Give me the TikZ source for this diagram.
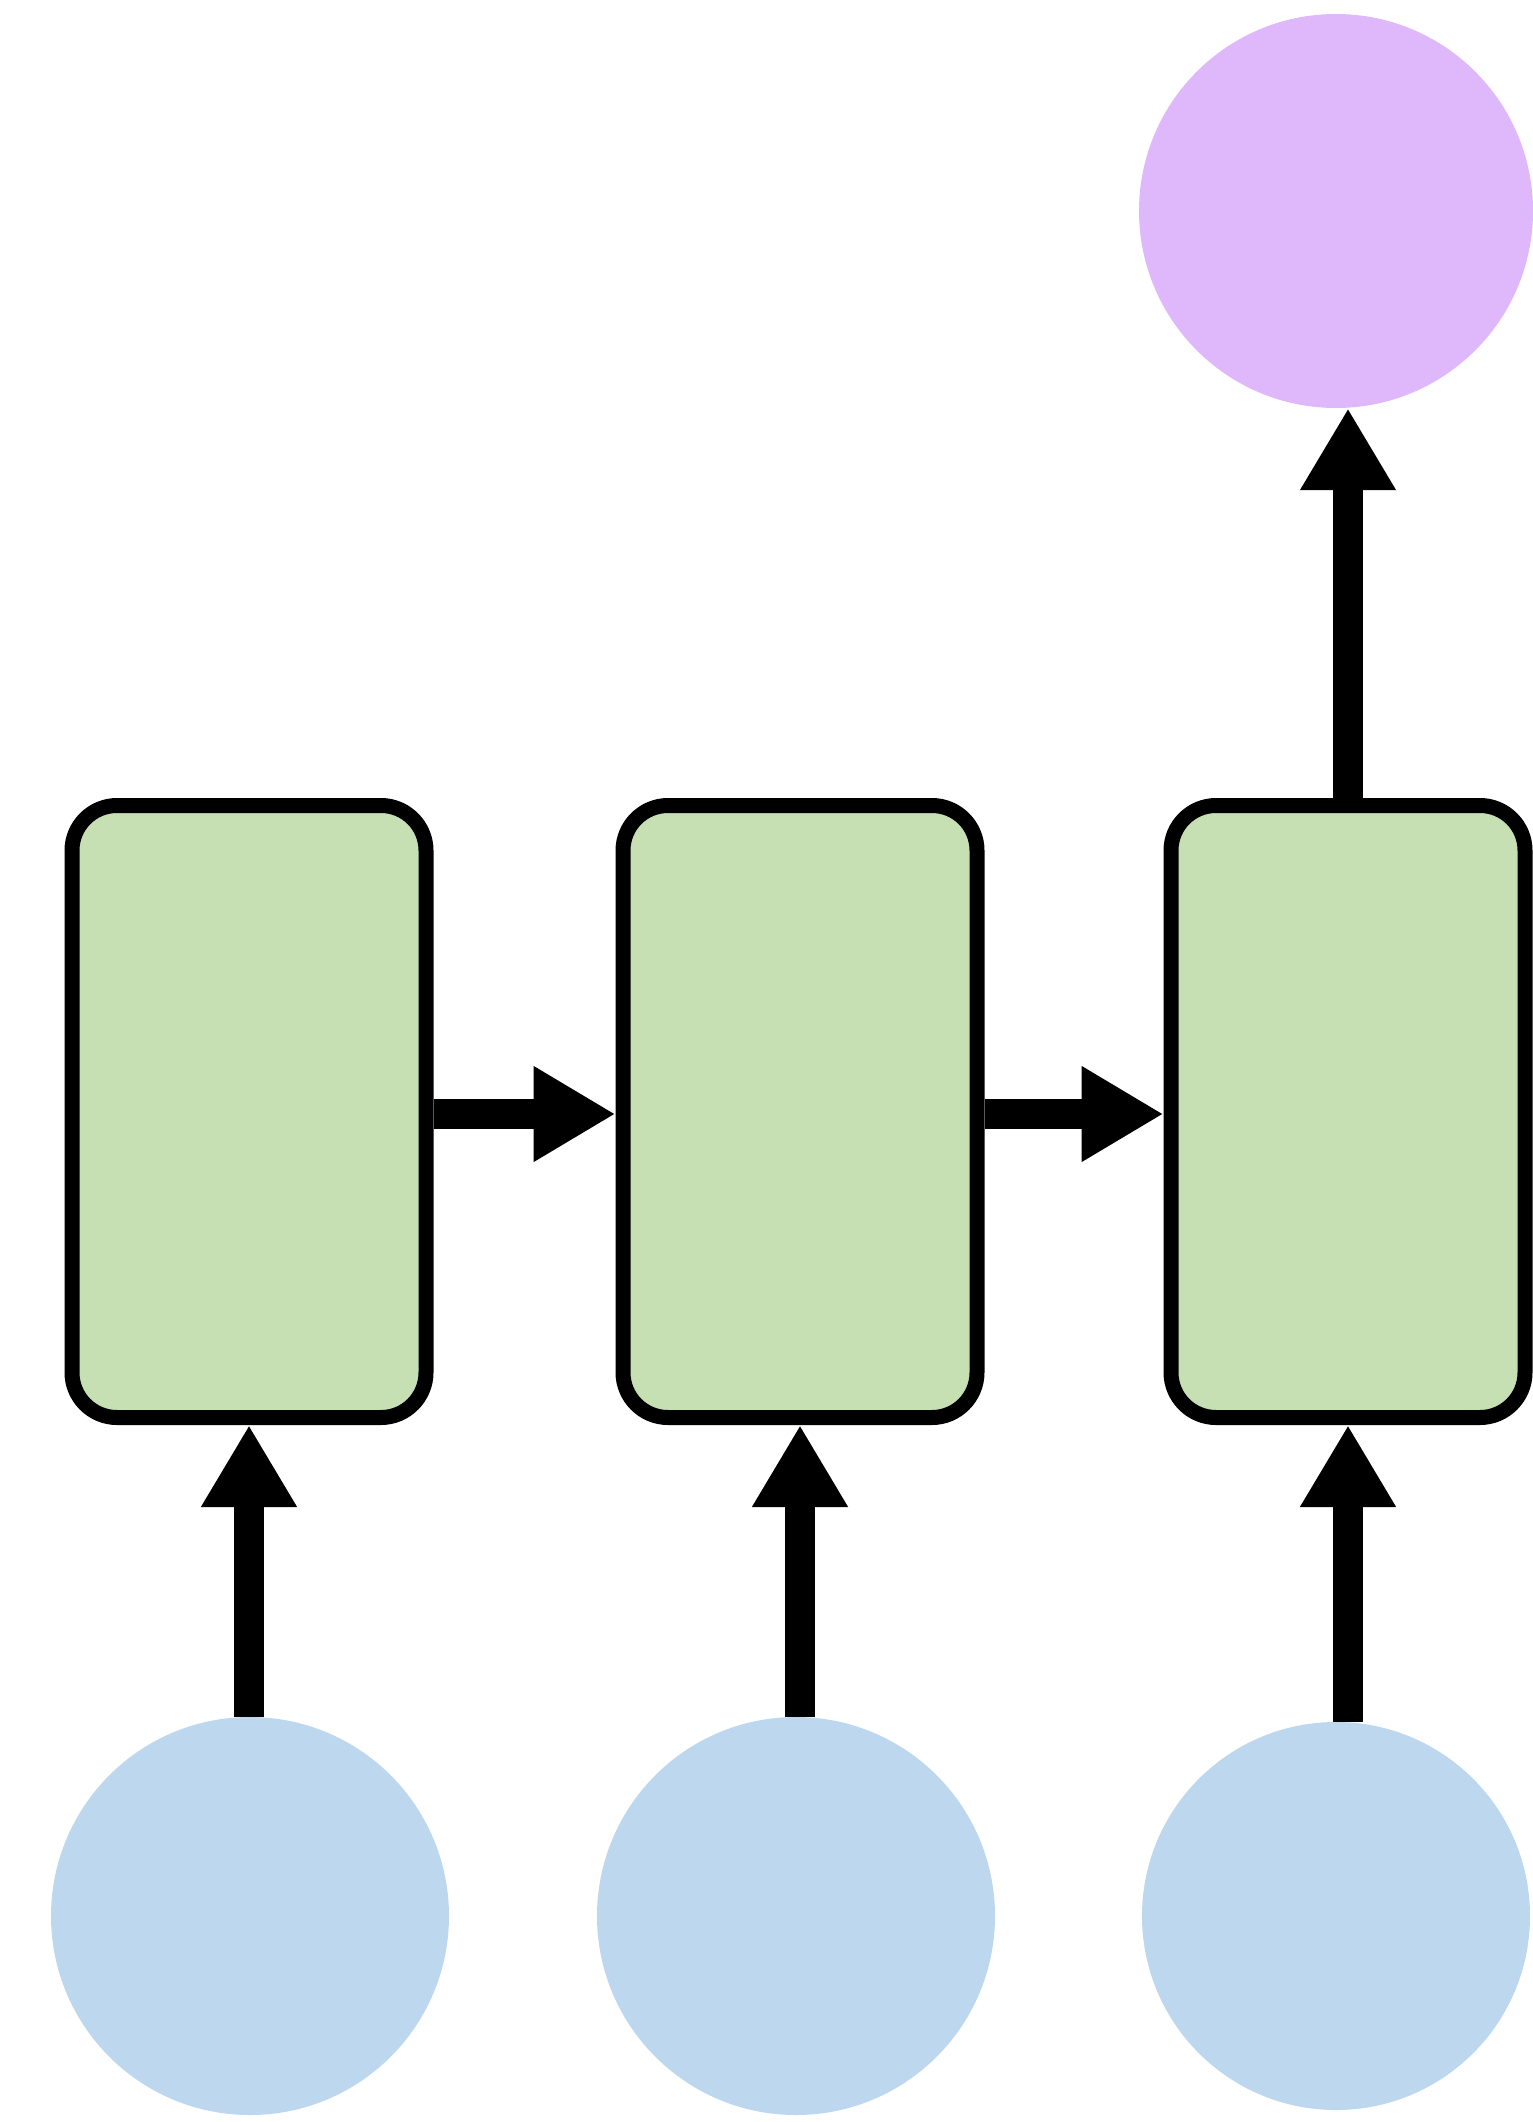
\documentclass[tikz,border=0pt]{standalone}
\usetikzlibrary{arrows.meta}
\definecolor{cellgreen}{RGB}{198,224,180}
\definecolor{inblue}{RGB}{189,215,238}
\definecolor{outpurple}{RGB}{222,184,251}
\begin{document}
\begin{tikzpicture}[x=1pt,y=-1pt,
  cell/.style={draw=black, line width=15pt, fill=cellgreen, rounded corners=45pt,
    minimum width=354pt, minimum height=612pt, inner sep=0pt},
  inp/.style={circle, fill=inblue, minimum size=398pt, inner sep=0pt},
  outp/.style={circle, fill=outpurple, minimum size=394pt, inner sep=0pt},
  arr/.style={line width=30pt, -{Triangle[length=82pt,width=90pt]}}]
\useasboundingbox (0,0) rectangle (1532,2122);
\node[cell] (c1) at (249,1111.5) {};
\node[cell] (c2) at (800,1111.5) {};
\node[cell] (c3) at (1348,1111.5) {};
\node[inp] (x1) at (250,1916) {};
\node[inp] (x2) at (796,1916) {};
\node[inp, minimum size=388pt] (x3) at (1336,1916) {};
\node[outp] (h) at (1336,211) {};
\draw[arr] (c1.east |- 0,1114) -- (c2.west |- 0,1114);
\draw[arr] (c2.east |- 0,1114) -- (c3.west |- 0,1114);
\draw[arr] (c1.south |- x1.north) -- (c1.south);
\draw[arr] (c2.south |- x2.north) -- (c2.south);
\draw[arr] (c3.south |- x3.north) -- (c3.south);
\draw[arr] (c3.north) -- (c3.north |- h.south);
\end{tikzpicture}
\end{document}
